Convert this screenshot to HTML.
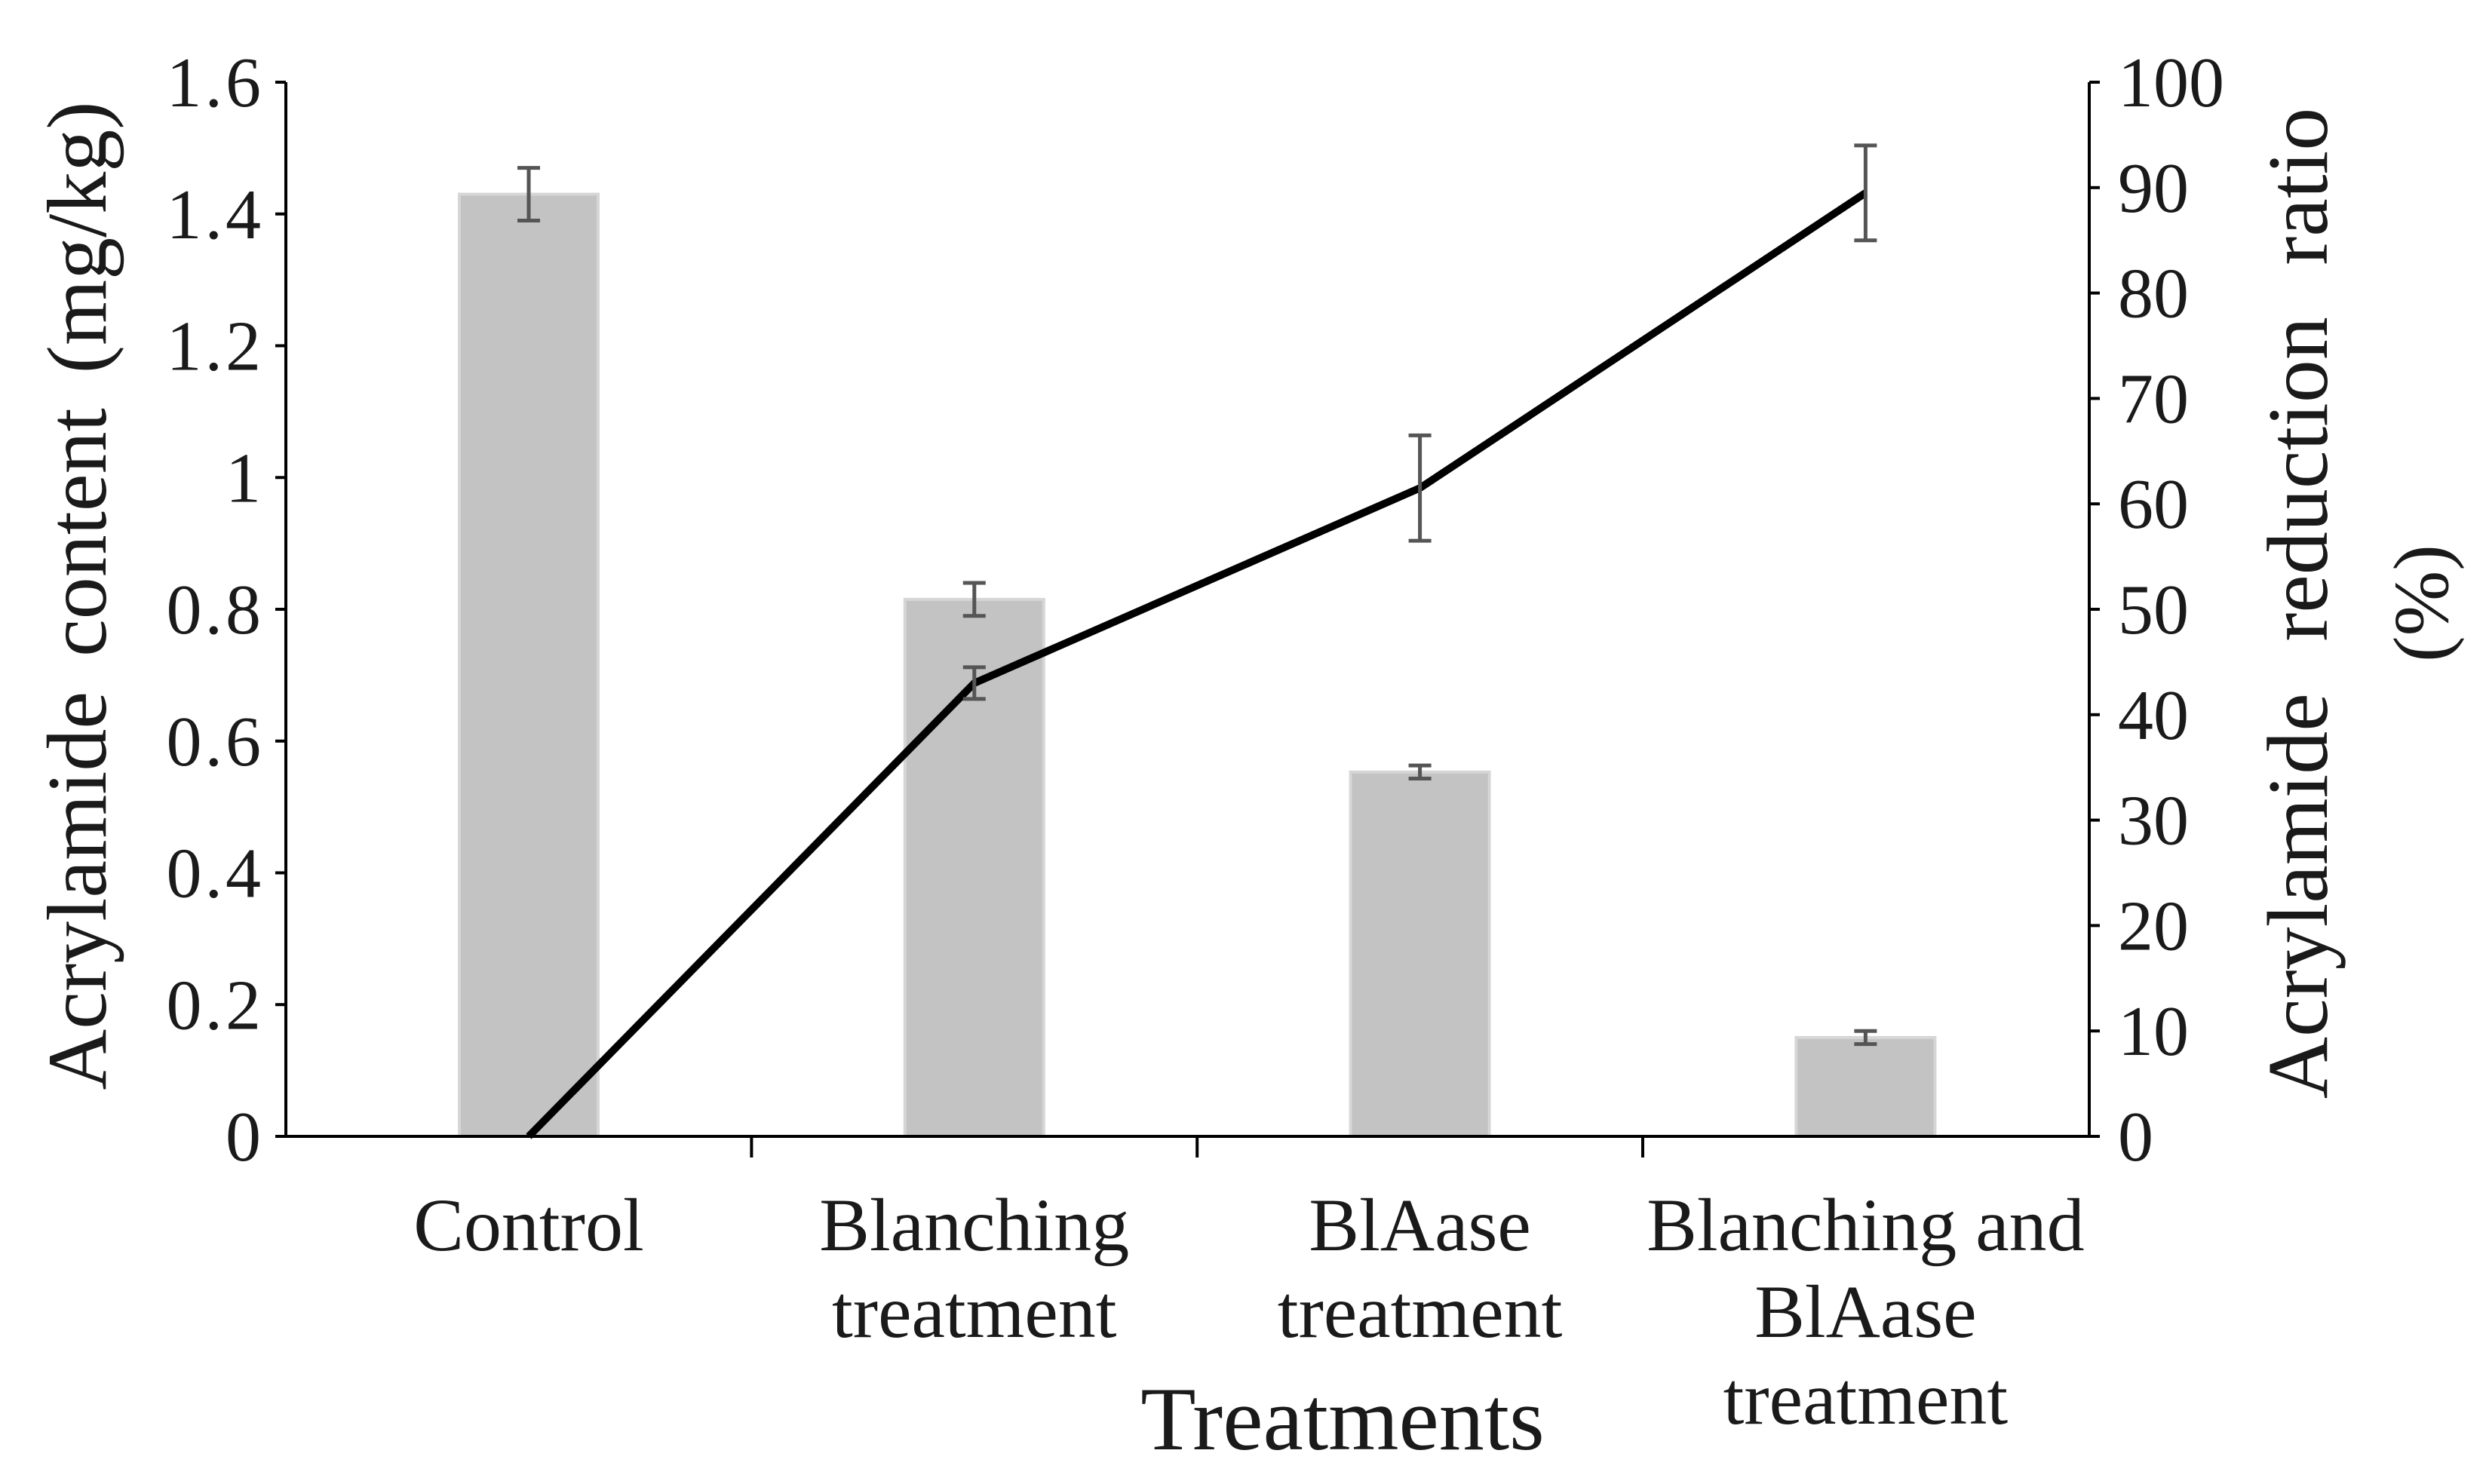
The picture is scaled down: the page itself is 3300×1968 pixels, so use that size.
<!DOCTYPE html>
<html><head><meta charset="utf-8"><style>
html,body{margin:0;padding:0;background:#fff}
svg{display:block}
text{font-family:"Liberation Serif",serif;fill:#1a1a1a}
</style></head><body>
<svg id="chart" width="3300" height="1968" viewBox="0 0 3300 1968">
<g id="bars"></g>
<g id="axes"></g>
<g id="line"></g>
<text x="140" y="790" font-size="112" text-anchor="middle" word-spacing="18" transform="rotate(-90 140 790)">Acrylamide  content  (mg/kg)</text>
<text x="3085" y="800" font-size="114" text-anchor="middle" word-spacing="40" transform="rotate(-90 3085 800)">Acrylamide  reduction  ratio</text>
<text x="3245" y="800" font-size="104" text-anchor="middle" transform="rotate(-90 3245 800)">(%)</text>
<text x="1780" y="1922" font-size="120" text-anchor="middle">Treatments</text>
</svg>
<script>
const categories=[["Control"],["Blanching","treatment"],["BlAase","treatment"],["Blanching and","BlAase","treatment"]];
const content=[1.43,0.815,0.553,0.15];
const contentErr=[0.04,0.025,0.01,0.01];
const ratio=[0,43,61.5,89.5];
const ratioErr=[0,1.5,5,4.5];
const leftTicks=[0,0.2,0.4,0.6,0.8,1,1.2,1.4,1.6];
const rightTicks=[0,10,20,30,40,50,60,70,80,90,100];

const NS="http://www.w3.org/2000/svg";
const Y0=1507,YT=109,XL=379,XR=2770,X0=701,STEP=590.8;
const yL=v=>Y0-(v/1.6)*(Y0-YT);
const yR=v=>Y0-(v/100)*(Y0-YT);
const xC=i=>X0+STEP*i;
function mk(tag,attrs,parent){const e=document.createElementNS(NS,tag);for(const k in attrs)e.setAttribute(k,attrs[k]);parent.appendChild(e);return e;}
const bars=document.getElementById('bars'),axes=document.getElementById('axes'),line=document.getElementById('line');
function errBar(x,v,e,yf,parent,nm){
  const g=mk('g',{stroke:'#555','stroke-width':5},parent);
  
  
  mk('line',{x1:x,x2:x,y1:yf(v-e),y2:yf(v+e)},g);
  mk('line',{x1:x-15,x2:x+15,y1:yf(v-e),y2:yf(v-e)},g);
  mk('line',{x1:x-15,x2:x+15,y1:yf(v+e),y2:yf(v+e)},g);
}
content.forEach((v,i)=>{
  const r=mk('rect',{x:xC(i)-92,y:yL(v),width:184,height:Y0-yL(v),fill:'#c3c3c3',stroke:'#d6d6d6','stroke-width':4},bars);
  
  
  errBar(xC(i),v,contentErr[i],yL,bars,'bar-error-'+i);
});
mk('line',{x1:XL,x2:XL,y1:YT,y2:Y0,stroke:'#000','stroke-width':4},axes);
mk('line',{x1:XR,x2:XR,y1:YT,y2:Y0,stroke:'#000','stroke-width':4},axes);
mk('line',{x1:XL,x2:XR,y1:Y0,y2:Y0,stroke:'#000','stroke-width':4},axes);
leftTicks.forEach(t=>{
  mk('line',{x1:XL-14,x2:XL,y1:yL(t),y2:yL(t),stroke:'#000','stroke-width':4},axes);
  const tx=mk('text',{x:350,y:yL(t)+32,'font-size':94,'text-anchor':'end','letter-spacing':4},axes);
  tx.textContent=String(t);
  
  
});
rightTicks.forEach(t=>{
  mk('line',{x1:XR,x2:XR+14,y1:yR(t),y2:yR(t),stroke:'#000','stroke-width':4},axes);
  const tx=mk('text',{x:2808,y:yR(t)+32,'font-size':94,'text-anchor':'start'},axes);
  tx.textContent=String(t);
  
  
});
categories.forEach((c,i)=>{
  if(i>0) mk('line',{x1:xC(i)-STEP/2,x2:xC(i)-STEP/2,y1:Y0,y2:Y0+28,stroke:'#000','stroke-width':4},axes);
  c.forEach((s,j)=>{
    const tx=mk('text',{x:xC(i),y:1658+j*115,'font-size':100,'text-anchor':'middle'},axes);
    tx.textContent=s;
    
    
  });
});
const pl=mk('polyline',{points:ratio.map((v,i)=>xC(i)+','+yR(v)).join(' '),fill:'none',stroke:'#000','stroke-width':10,'stroke-linejoin':'round'},line);


ratio.forEach((v,i)=>{if(ratioErr[i]>0)errBar(xC(i),v,ratioErr[i],yR,line,'line-error-'+i);});
</script>
</body></html>
